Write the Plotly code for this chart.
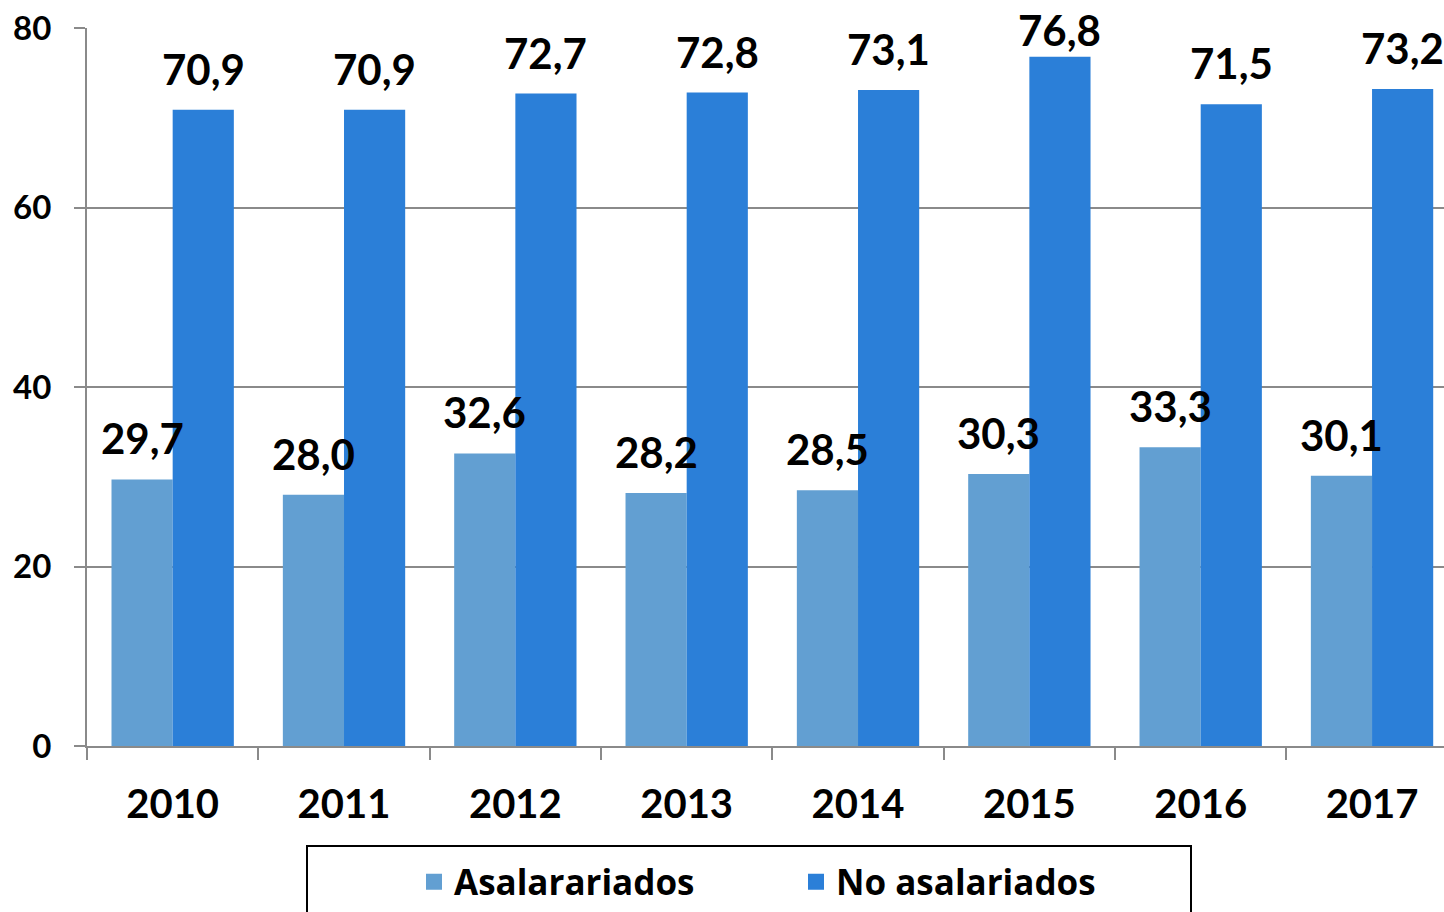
import plotly.graph_objects as go

years = ["2010", "2011", "2012", "2013", "2014", "2015", "2016", "2017"]
asalariados = [29.7, 28.0, 32.6, 28.2, 28.5, 30.3, 33.3, 30.1]
no_asalariados = [70.9, 70.9, 72.7, 72.8, 73.1, 76.8, 71.5, 73.2]

light = "#629fd2"
dark = "#2b7fd8"
grey = "#8a8a8a"
num_font = dict(family="Lato, Roboto, sans-serif", size=42, color="black", weight="bold")

W, H = 1444, 912
m_l, m_t, m_b = 87, 28, 166
plot_w, plot_h = W - m_l, H - m_t - m_b
x_range = [-0.5, 7.42]
y_range = [0, 80]
slot_px = plot_w / (x_range[1] - x_range[0])
bargap = 0.286
half_bar = slot_px * (1 - bargap) / 4  # centre offset of each bar in the group

fig = go.Figure()
series = [("Asalarariados", asalariados, light, -half_bar),
          ("No asalariados", no_asalariados, dark, half_bar)]
for name, vals, col, shift in series:
    fig.add_trace(go.Bar(
        x=years, y=vals, name=name,
        marker=dict(color=col, line=dict(width=0)),
        showlegend=False,
    ))
    # legend entry with a bigger square
    fig.add_trace(go.Scatter(
        x=[None], y=[None], mode="markers", name=name,
        marker=dict(symbol="square", size=16, color=col),
    ))

# value labels on top of every bar (category index as x);
# pulled down when they would run off the top of the page
annotations = []
for name, vals, col, shift in series:
    for i, v in enumerate(vals):
        bar_top = m_t + (y_range[1] - v) * plot_h / (y_range[1] - y_range[0])
        lift = min(14, bar_top - 42 - 15)
        annotations.append(dict(
            x=i, y=v, xref="x", yref="y",
            text=f"{v:.1f}".replace(".", ","), showarrow=False,
            xanchor="center", yanchor="bottom", xshift=shift, yshift=lift,
            font=num_font,
        ))

fig.update_layout(
    width=W, height=H,
    margin=dict(l=m_l, r=0, t=m_t, b=m_b, autoexpand=False),
    paper_bgcolor="white", plot_bgcolor="white",
    barmode="group", bargap=bargap, bargroupgap=0,
    xaxis=dict(
        type="category", range=x_range, automargin=False,
        tickson="boundaries", ticks="outside", ticklen=12, tickwidth=2,
        tickcolor=grey, showline=True, linecolor=grey, linewidth=2,
        showgrid=False, ticklabelstandoff=22,
        tickfont=dict(family="Lato, Roboto, sans-serif", size=40, color="black", weight="bold"),
    ),
    yaxis=dict(
        range=y_range, dtick=20, ticks="outside", ticklen=11, tickwidth=2,
        tickcolor=grey, showline=True, linecolor=grey, linewidth=2,
        showgrid=True, gridcolor=grey, gridwidth=2, zeroline=False,
        ticklabelstandoff=16, automargin=False,
        tickfont=dict(family="Lato, Roboto, sans-serif", size=33, color="black", weight="bold"),
    ),
    legend=dict(
        orientation="h", x=(414 - m_l) / plot_w, xanchor="left",
        y=(H - m_b - 882) / plot_h, yanchor="middle",
        entrywidth=337, entrywidthmode="pixels",
        font=dict(family="Open Sans, sans-serif", size=35, color="black", weight="bold"),
        bgcolor="rgba(0,0,0,0)", borderwidth=0,
    ),
    annotations=annotations,
    shapes=[dict(
        type="rect", xref="paper", yref="paper",
        x0=(307 - m_l) / plot_w, x1=(1191 - m_l) / plot_w,
        y0=(H - m_b - 846) / plot_h, y1=(H - m_b - 940) / plot_h,
        line=dict(color="black", width=2), fillcolor="rgba(0,0,0,0)",
    )],
)

fig.write_html("out.html", config={"displayModeBar": False},
               post_script="document.body.style.margin='0';")
